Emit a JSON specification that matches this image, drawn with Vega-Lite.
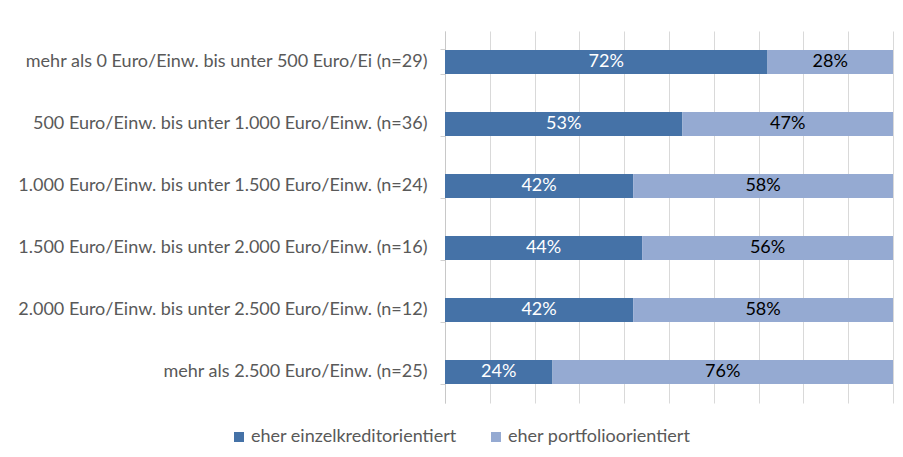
{
  "$schema": "https://vega.github.io/schema/vega-lite/v6.json",
  "width": 448,
  "height": 372,
  "autosize": "none",
  "padding": {"left": 445, "top": 31, "right": 10, "bottom": 54},
  "background": "white",
  "config": {
    "view": {"stroke": null},
    "font": "Lato",
    "axis": {"labelFont": "Lato", "labelFontSize": 18, "labelColor": "#595959", "labelLimit": 0},
    "legend": {"labelFont": "Lato", "labelFontSize": 18, "labelColor": "#595959", "labelLimit": 0}
  },
  "data": {
    "values": [
      {"cat": "mehr als 0 Euro/Einw. bis unter 500 Euro/Ei (n=29)", "type": "eher einzelkreditorientiert", "o": 1, "value": 0.72},
      {"cat": "mehr als 0 Euro/Einw. bis unter 500 Euro/Ei (n=29)", "type": "eher portfolioorientiert", "o": 2, "value": 0.28},
      {"cat": "500 Euro/Einw. bis unter 1.000 Euro/Einw. (n=36)", "type": "eher einzelkreditorientiert", "o": 1, "value": 0.53},
      {"cat": "500 Euro/Einw. bis unter 1.000 Euro/Einw. (n=36)", "type": "eher portfolioorientiert", "o": 2, "value": 0.47},
      {"cat": "1.000 Euro/Einw. bis unter 1.500 Euro/Einw. (n=24)", "type": "eher einzelkreditorientiert", "o": 1, "value": 0.42},
      {"cat": "1.000 Euro/Einw. bis unter 1.500 Euro/Einw. (n=24)", "type": "eher portfolioorientiert", "o": 2, "value": 0.58},
      {"cat": "1.500 Euro/Einw. bis unter 2.000 Euro/Einw. (n=16)", "type": "eher einzelkreditorientiert", "o": 1, "value": 0.44},
      {"cat": "1.500 Euro/Einw. bis unter 2.000 Euro/Einw. (n=16)", "type": "eher portfolioorientiert", "o": 2, "value": 0.56},
      {"cat": "2.000 Euro/Einw. bis unter 2.500 Euro/Einw. (n=12)", "type": "eher einzelkreditorientiert", "o": 1, "value": 0.42},
      {"cat": "2.000 Euro/Einw. bis unter 2.500 Euro/Einw. (n=12)", "type": "eher portfolioorientiert", "o": 2, "value": 0.58},
      {"cat": "mehr als 2.500 Euro/Einw. (n=25)", "type": "eher einzelkreditorientiert", "o": 1, "value": 0.24},
      {"cat": "mehr als 2.500 Euro/Einw. (n=25)", "type": "eher portfolioorientiert", "o": 2, "value": 0.76}
    ]
  },
  "transform": [
    {"stack": "value", "groupby": ["cat"], "sort": [{"field": "o", "order": "ascending"}], "as": ["v0", "v1"]},
    {"calculate": "(datum.v0 + datum.v1) / 2", "as": "mid"}
  ],
  "encoding": {
    "y": {
      "field": "cat", "type": "nominal", "sort": null, "title": null,
      "scale": {"paddingInner": 0.61, "paddingOuter": 0.305},
      "axis": {
        "bandPosition": 1, "tickExtra": true, "tickSize": 5, "tickColor": "#d0d0d0",
        "domainColor": "#c8c8c8", "labelPadding": 13, "grid": false
      }
    }
  },
  "layer": [
    {
      "mark": {"type": "bar"},
      "encoding": {
        "x": {
          "field": "v0", "type": "quantitative", "title": null,
          "scale": {"domain": [0, 1], "nice": false},
          "axis": {
            "values": [0, 0.1, 0.2, 0.3, 0.4, 0.5, 0.6, 0.7, 0.8, 0.9, 1],
            "grid": true, "gridColor": "#d9d9d9", "labels": false, "ticks": false, "domain": false
          }
        },
        "x2": {"field": "v1"},
        "color": {
          "field": "type", "type": "nominal", "title": null,
          "scale": {"domain": ["eher einzelkreditorientiert", "eher portfolioorientiert"], "range": ["#4572a7", "#95aad2"]},
          "legend": {
            "orient": "none", "direction": "horizontal", "legendX": -215, "legendY": 397,
            "symbolType": "square", "symbolSize": 100, "symbolStrokeWidth": 0, "columnPadding": 30, "labelOffset": 3
          }
        }
      }
    },
    {
      "mark": {"type": "text", "fontSize": 18, "font": "Lato"},
      "encoding": {
        "x": {"field": "mid", "type": "quantitative"},
        "text": {"field": "value", "type": "quantitative", "format": ".0%"},
        "color": {
          "condition": {"test": "datum.type === 'eher einzelkreditorientiert'", "value": "#ffffff"},
          "value": "#000000"
        }
      }
    }
  ]
}
